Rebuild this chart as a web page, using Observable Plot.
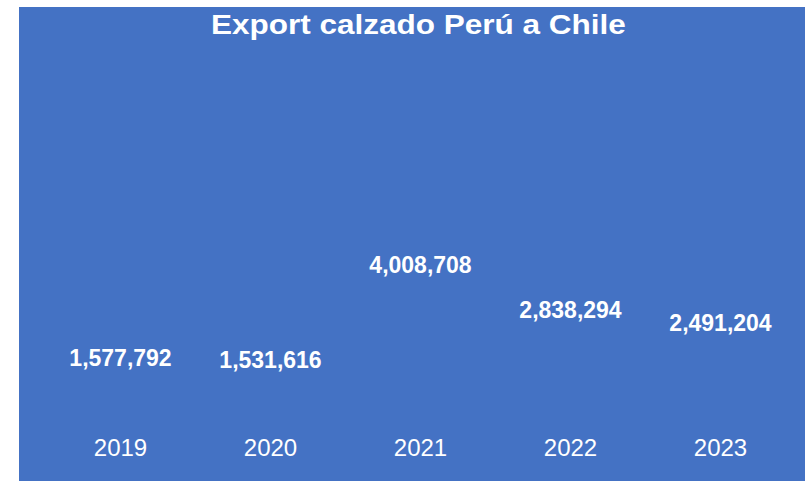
<!DOCTYPE html>
<html>
<head>
<meta charset="utf-8">
<script src="https://cdn.jsdelivr.net/npm/d3@7"></script>
<script src="https://cdn.jsdelivr.net/npm/@observablehq/plot@0.6"></script>
<style>
  html, body { margin: 0; padding: 0; background: #ffffff; width: 805px; height: 481px; overflow: hidden; }
  #card { position: absolute; left: 19px; top: 7px; width: 786px; height: 474px; background: #4472C4; }
  #title { height: 37px; line-height: 37px; text-align: center; padding-left: 13px; white-space: nowrap; position: relative; top: 2px; }
  #title span { display: inline-block; font: bold 28px "Liberation Sans", Arial, sans-serif; color: #ffffff; transform: scaleX(1.125); transform-origin: center; }
</style>
</head>
<body>
<div id="card">
  <div id="title"><span>Export calzado Perú a Chile</span></div>
  <div id="chart"></div>
</div>
<script>
const years = ["2019", "2020", "2021", "2022", "2023"];
const values = [1577792, 1531616, 4008708, 2838294, 2491204];

const data = years.map((year, i) => ({year, value: values[i]}));

const chart = Plot.plot({
  width: 786,
  height: 437,
  marginLeft: 26,
  marginRight: 10,
  marginTop: 221,
  marginBottom: 61.8,
  style: {background: "transparent", color: "#ffffff", fontFamily: "'Liberation Sans', Arial, sans-serif", overflow: "visible"},
  x: {type: "band", domain: years, padding: 0},
  y: {domain: [0, d3.max(values)], axis: null},
  marks: [
    Plot.axisX({tickSize: 0, tickPadding: 19.4, fontSize: 24, fill: "#ffffff", label: null}),
    Plot.text(data, {
      x: "year",
      y: "value",
      text: d => d3.format(",")(d.value),
      fill: "#ffffff",
      fontSize: 23,
      fontWeight: "bold",
      textAnchor: "middle"
    })
  ]
});
document.getElementById("chart").appendChild(chart);
</script>
</body>
</html>
